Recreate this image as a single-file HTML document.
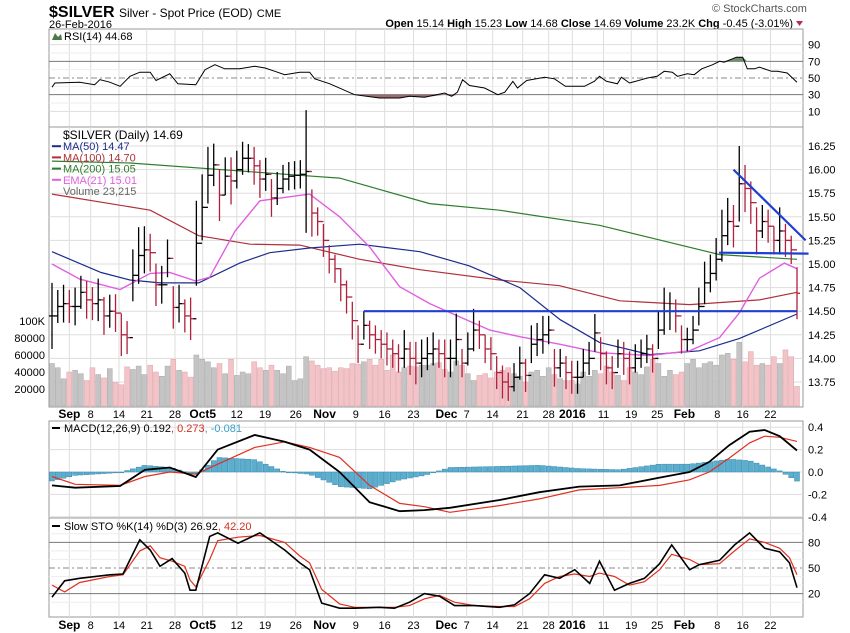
<!DOCTYPE html>
<html><head><meta charset="utf-8"><style>
body{margin:0;background:#fff}
svg{display:block;font-family:"Liberation Sans",sans-serif}
</style></head><body>
<svg id="c" width="850" height="633" viewBox="0 0 850 633">
<rect width="850" height="633" fill="#fff"/>
<text x="49" y="17" font-size="16" font-weight="bold">$SILVER <tspan font-size="12" font-weight="normal">Silver - Spot Price (EOD)</tspan> <tspan font-size="11" font-weight="normal">CME</tspan></text>
<text x="49" y="28" font-size="11">26-Feb-2016</text>
<text x="712" y="12" font-size="11" fill="#555">© StockCharts.com</text>
<text x="793" y="27" font-size="11" text-anchor="end"><tspan font-weight="bold">Open</tspan> 15.14 <tspan font-weight="bold">High</tspan> 15.23 <tspan font-weight="bold">Low</tspan> 14.68 <tspan font-weight="bold">Close</tspan> 14.69 <tspan font-weight="bold">Volume</tspan> 23.2K <tspan font-weight="bold">Chg</tspan> -0.45 (-3.01%)</text>
<path d="M796 21 L803 21 L799.5 26 Z" fill="#b03050"/>
<g id="g"></g>
</svg>
<script>
const closes=[14.45,14.55,14.58,14.55,14.55,14.70,14.62,14.58,14.62,14.45,14.50,14.48,14.25,14.22,
14.88,15.09,15.15,15.12,14.78,14.78,15.06,14.54,14.58,14.45,14.42,
15.22,15.60,15.94,16.05,15.73,15.93,15.88,16.00,16.12,16.12,16.04,15.90,15.95,15.70,15.80,15.90,15.93,15.94,15.95,15.98,
15.54,15.45,15.25,15.05,14.95,14.78,14.65,14.40,14.15,14.35,14.25,14.20,14.15,14.10,14.05,14.00,14.10,14.00,13.95,14.00,14.05,
14.10,14.05,14.00,14.00,14.20,13.95,14.10,14.30,14.25,14.10,14.05,13.85,13.75,13.70,13.80,13.95,13.82,14.15,14.20,14.25,14.30,13.90,13.95,13.85,13.80,13.80,13.95,14.00,14.27,14.05,13.90,13.85,14.05,14.00,13.90,14.00,14.05,14.10,14.00,14.30,14.50,14.50,14.45,14.20,14.20,14.30,14.55,14.80,14.90,15.05,15.30,15.45,15.40,15.85,15.80,15.65,15.35,15.45,15.40,15.25,15.35,15.25,15.15,14.69];
const spans=[0.7,0.35,0.4,0.35,0.4,0.35,0.4,0.35,0.45,0.4,0.35,0.4,0.45,0.35,
0.55,0.6,0.5,0.4,0.45,0.4,0.4,0.45,0.4,0.35,0.45,
0.9,0.7,0.6,0.45,0.55,0.4,0.5,0.4,0.35,0.3,0.4,0.4,0.35,0.4,0.35,0.3,0.3,0.3,0.3,1.3,
0.5,0.3,0.35,0.3,0.3,0.35,0.35,0.4,0.4,0.3,0.3,0.3,0.3,0.35,0.3,0.3,0.4,0.35,0.45,0.4,0.35,
0.35,0.3,0.4,0.4,0.55,0.3,0.35,0.45,0.3,0.3,0.35,0.35,0.35,0.3,0.3,0.35,0.35,0.4,0.35,0.4,0.3,0.4,0.3,0.35,0.35,0.35,0.3,0.35,0.4,0.35,0.35,0.35,0.3,0.35,0.35,0.3,0.3,0.3,0.3,0.4,0.5,0.4,0.35,0.3,0.25,0.3,0.4,0.45,0.4,0.45,0.55,0.5,0.45,0.8,0.5,0.45,0.5,0.35,0.35,0.3,0.5,0.35,0.3,0.55];
const volumes=[50,45,32,40,42,38,30,45,37,33,44,28,25,46,43,47,37,48,40,35,47,55,42,40,34,
60,55,52,45,50,38,55,36,40,38,52,45,42,48,42,38,47,30,32,58,53,48,44,45,41,
45,44,50,49,52,55,48,55,42,60,40,45,47,46,48,48,50,51,43,40,53,48,38,30,36,
38,33,40,42,45,38,35,28,40,42,35,45,37,32,30,30,26,40,35,42,38,47,40,36,30,
45,40,37,46,55,50,35,42,37,40,50,55,45,50,52,48,60,62,55,75,52,64,48,50,48,58,50,66,58,23];
const rsiIdx=[0,0.5,4.8,7.4,8.3,10,11.8,13.5,15.2,17,18,20.4,21.8,24.9,26.5,28.2,29.9,32.5,35.1,36.9,38.6,40.3,42.9,44.6,45.5,48.1,52.4,56.7,60.2,61.9,64.5,68,69.2,70.2,71.1,72.3,74.9,77.2,78.4,79.8,80.6,82.2,85.3,87,88.9,92.2,93.9,94.8,96,97.9,98.6,100,103.1,104.8,106,107.4,108.3,110,111.2,112.5,114.4,115.6,116.4,118.5,119.6,120.4,121.6,122.5,124.6,125.6,127.3,129];
const rsiVals=[39,44,45,42,48,45,40,52,57,57,47,55,43,42,60,66,61,61,64,62,58,54,57,57,49,43,30,26,26,28,27,32,28,33,48,41,38,30,33,46,38,47,51,49,40,40,46,52,46,43,51,44,50,52,58,57,52,55,54,61,66,70,69,75,75,61,61,63,58,58,56,45];
const maIdx50=[0,8.5,13.5,18.7,25.4,32.5,37.7,44.6,53.3,63.7,72.3,81,88,94.8,103.5,112.1,119,129];
const ma50=[15.13,14.91,14.83,14.80,14.80,15.01,15.12,15.17,15.21,15.13,14.98,14.75,14.41,14.17,14.04,14.08,14.21,14.47];
const maIdx100=[0,17,25.4,34.3,42.9,53.3,63.7,77.5,87.9,98.3,110.4,122.5,129];
const ma100=[15.74,15.57,15.30,15.21,15.20,15.05,14.94,14.83,14.77,14.61,14.57,14.62,14.70];
const maIdx200=[0,13.5,42.9,49.8,65.4,77.5,94.8,103.5,115.6,129];
const ma200=[16.09,16.07,15.94,15.91,15.64,15.57,15.41,15.28,15.10,15.05];
const emaIdx=[0,4.8,11.8,17,20.4,24.9,27.3,31.7,36,44.6,49.8,55,60.2,65.4,70.6,75.8,81,87.9,94.8,103.5,110.4,115.6,119,122.5,126.8,129];
const ema21=[15.00,14.84,14.73,14.90,14.91,14.82,14.86,15.35,15.67,15.74,15.50,15.18,14.76,14.58,14.44,14.30,14.23,14.15,14.06,14.03,14.08,14.22,14.48,14.85,15.01,14.95];
const macdIdx=[0,4,11.8,16.1,20.4,24.9,28.7,35.1,40.3,44.6,49.8,55,60.2,64.5,68.9,77.5,84.4,91.3,98.3,105.2,110.4,113.8,117.3,120.8,123.4,126,129];
const macdVals=[-0.12,-0.14,-0.125,0.02,0.04,-0.045,0.2,0.33,0.27,0.2,0.0,-0.27,-0.35,-0.34,-0.32,-0.25,-0.18,-0.13,-0.12,-0.05,0.0,0.09,0.24,0.36,0.375,0.32,0.192];
const signalVals=[-0.04,-0.11,-0.12,-0.04,0.0,-0.02,0.07,0.22,0.27,0.22,0.13,-0.12,-0.28,-0.31,-0.36,-0.30,-0.24,-0.16,-0.14,-0.12,-0.07,0.0,0.125,0.26,0.32,0.31,0.273];
const stoIdx=[0,2.2,4.8,10,12.3,15.2,17,18.7,20.8,23,23.9,24.9,27.3,28.7,32.2,36,40.3,42.9,44.6,46.7,49.8,52.4,56.7,59.3,61.9,64.5,67.1,69.7,73.2,77.5,80.1,82.7,85.3,87.9,90.5,93.1,94.8,97.4,100,102.6,105.2,107.3,110.4,112.1,115.6,118.2,120.8,123.4,126,127.7,129];
const stoK=[16,35,38,42,43,83,71,52,61,44,24,24,87,91,79,91,71,56,48,9,3,3,4,3,10,20,17,6,6,4,7,20,42,38,48,32,58,24,32,38,55,77,48,54,59,77,91,73,69,56,27];
const stoD=[30,22,33,40,42,70,76,62,58,52,36,28,60,82,86,88,80,64,56,25,8,4,4,4,6,14,18,10,6,5,5,14,32,40,43,40,44,40,30,34,48,66,60,54,55,70,84,80,73,62,42];
const tickIdx=[3,6.7,11.6,16.4,21.3,26.1,32,36.9,42.2,47.2,52.6,57.6,62.6,68.3,71.8,76.3,81.5,86,90.1,95.5,100.3,104.8,109.5,115.2,119.6,124.4];
const tickLabels=["Sep","8","14","21","28","Oct5","12","19","26","Nov","9","16","23","Dec","7","14","21","28","2016","11","19","25","Feb","8","16","22"];
const tickBold=["Sep","Oct5","Nov","Dec","2016","Feb"];
const priceTicks=[16.25,16.00,15.75,15.50,15.25,15.00,14.75,14.50,14.25,14.00,13.75];
const volTicks=[100000,80000,60000,40000,20000];
const volTickLabels=["100K","80000","60000","40000","20000"];

const NS="http://www.w3.org/2000/svg", G=document.getElementById('g');
const L=49,R=803;
const X=i=>52+i*(797-52)/(closes.length-1);
const PY=v=>146+(16.25-v)*94.4;
const VY=v=>406-v*17/20000;
const RY=v=>78-(v-50)*0.833;
const MY=v=>472-v*112;
const SY=v=>568-(v-50)*0.855;
function el(t,a,p){const e=document.createElementNS(NS,t);for(const k in a)e.setAttribute(k,a[k]);(p||G).appendChild(e);return e;}
function txt(x,y,s,a){const e=el('text',Object.assign({x:x,y:y,'font-size':11},a||{}));e.textContent=s;return e;}
function line(idx,vals,fy,col,w,name){let d='';idx.forEach((i,k)=>{d+=(k?'L':'M')+X(i).toFixed(1)+' '+fy(vals[k]).toFixed(1);});
 const p=el('path',{d:d,fill:'none',stroke:col,'stroke-width':w});
 
 return p;}
function interp(idx,vals,i){if(i<=idx[0])return vals[0];for(let k=1;k<idx.length;k++){if(i<=idx[k]){const t=(i-idx[k-1])/(idx[k]-idx[k-1]);return vals[k-1]+t*(vals[k]-vals[k-1]);}}return vals[vals.length-1];}
function panel(top,bot,name){
 const r=el('rect',{x:L,y:top,width:R-L,height:bot-top,fill:'none',stroke:'#999'});
 
 
 tickIdx.forEach(i=>el('line',{x1:X(i),x2:X(i),y1:top,y2:bot,stroke:'#ddd'}));}
// RSI panel
panel(29,127,'rsi-panel');
[90,70,50,30,10].forEach(v=>{el('line',{x1:L,x2:R,y1:RY(v),y2:RY(v),stroke:v==70||v==30?'#777':(v==50?'#888':'#ddd'),'stroke-dasharray':v==50?'6,3,2,3':''});txt(808,RY(v)+4,String(v));});
for(let v=20;v<=80;v+=20)el('line',{x1:L,x2:R,y1:RY(v),y2:RY(v),stroke:'#eee'});
// fills
(function(){let d='M'+X(rsiIdx[0])+' '+RY(30);rsiIdx.forEach((i,k)=>{d+='L'+X(i).toFixed(1)+' '+RY(Math.min(rsiVals[k],30)).toFixed(1);});d+='L'+X(rsiIdx[rsiIdx.length-1])+' '+RY(30)+'Z';const p=el('path',{d:d,fill:'#9c6b6b'});
 let d2='M'+X(rsiIdx[0])+' '+RY(70);rsiIdx.forEach((i,k)=>{d2+='L'+X(i).toFixed(1)+' '+RY(Math.max(rsiVals[k],70)).toFixed(1);});d2+='L'+X(rsiIdx[rsiIdx.length-1])+' '+RY(70)+'Z';const p2=el('path',{d:d2,fill:'#6e8f6e'});})();
line(rsiIdx,rsiVals,RY,'#000',1,'rsi-line');
txt(64,40,'RSI(14) 44.68',{'font-size':11});
el('path',{d:'M52 40 L55 33 L58 37 L61 34 L62 40Z',fill:'#4a7a4a'});
// Main panel
panel(127,407,'price-panel');
priceTicks.forEach(v=>{el('line',{x1:L,x2:R,y1:PY(v),y2:PY(v),stroke:'#ddd'});txt(808,PY(v)+4,v.toFixed(2));});
volTicks.forEach((v,k)=>{txt(45,VY(v)+4,volTickLabels[k],{'text-anchor':'end'});});
volumes.forEach((v,i)=>{const up=i==0||closes[i]>=closes[i-1];const r=el('rect',{x:X(i)-2.5,y:VY(v*1000),width:5,height:406-VY(v*1000),fill:up?'#c4c4c4':'#f2c3c7',stroke:up?'#aaa':'#e0a5ab','stroke-width':0.5});
 
 });
line(maIdx200,ma200,PY,'#2e7d2e',1.2,'ma200-line');
line(maIdx100,ma100,PY,'#b0303c',1.2,'ma100-line');
line(maIdx50,ma50,PY,'#1c2c8c',1.2,'ma50-line');
line(emaIdx,ema21,PY,'#e060e0',1.4,'ema21-line');
closes.forEach((c,i)=>{const up=i==0||c>=closes[i-1];const col=up?'#000':'#b0203c';const x=X(i);const hi=c+spans[i]*0.5,lo=c-spans[i]*0.5;
 const b=el('line',{x1:x,x2:x,y1:PY(hi),y2:PY(lo),stroke:col,'stroke-width':1.3});
 
 
 el('line',{x1:x,x2:x+3,y1:PY(c),y2:PY(c),stroke:col,'stroke-width':1.3});
 const o=i==0?c:closes[i-1];el('line',{x1:x-3,x2:x,y1:PY(o),y2:PY(o),stroke:col,'stroke-width':1.3});});
// trend lines
const tl=[[54,14.50,129,14.50],[115.5,15.12,131,15.11],[118,16.00,130.5,15.25]];
tl.forEach(t=>{const l=el('line',{x1:X(t[0]),y1:PY(t[1]),x2:X(t[2]),y2:PY(t[3]),stroke:'#1f3fd0','stroke-width':2.2});
 
 });
const leg=[['$SILVER (Daily) 14.69','#000'],['MA(50) 14.47','#1c2c8c'],['MA(100) 14.70','#b0303c'],['MA(200) 15.05','#2e7d2e'],['EMA(21) 15.01','#e060e0'],['Volume 23,215','#666']];
leg.forEach((l,k)=>{const y=139+k*11.2;const t=txt(63,y,l[0],{fill:l[1],'font-size':k==0?12:11});if(k>0&&k<5)el('line',{x1:52,x2:61,y1:y-4,y2:y-4,stroke:l[1],'stroke-width':2});});
// x labels
function xlabels(y){tickIdx.forEach((i,k)=>{const t=txt(X(i),y,tickLabels[k],{'text-anchor':'middle','font-weight':tickBold.includes(tickLabels[k])?'bold':'normal','font-size':tickBold.includes(tickLabels[k])?12:11});});}
xlabels(418);
// MACD
panel(421,518,'macd-panel');
[0.4,0.2,0,-0.2,-0.4].forEach(v=>{el('line',{x1:L,x2:R,y1:MY(v),y2:MY(v),stroke:'#ddd'});txt(808,MY(v)+4,v.toFixed(1));});
closes.forEach((c,i)=>{const h=interp(macdIdx,macdVals,i)-interp(macdIdx,signalVals,i);const y0=MY(0),y1=MY(h);const r=el('rect',{x:X(i)-2.5,y:Math.min(y0,y1),width:5,height:Math.max(0.8,Math.abs(y1-y0)),fill:'#5aaed0',stroke:'#3a88aa','stroke-width':0.5});
 
 });
line(macdIdx,signalVals,MY,'#e03020',1.2,'macd-signal-line');
line(macdIdx,macdVals,MY,'#000',1.8,'macd-line');
el('line',{x1:52,x2:60,y1:428,y2:428,stroke:'#000','stroke-width':2});
(function(){const t=txt(64,432,'MACD(12,26,9) 0.192',{});const a=el('tspan',{fill:'#d03020'},t);a.textContent=', 0.273';const b=el('tspan',{fill:'#3aa0c8'},t);b.textContent=', -0.081';})();
// STO
panel(518,617,'stochastic-panel');
[80,50,20].forEach(v=>{el('line',{x1:L,x2:R,y1:SY(v),y2:SY(v),stroke:v==50?'#888':'#777','stroke-dasharray':v==50?'6,3,2,3':''});txt(808,SY(v)+4,String(v));});
for(let v=10;v<=90;v+=10)if(v!=80&&v!=50&&v!=20)el('line',{x1:L,x2:R,y1:SY(v),y2:SY(v),stroke:'#eee'});
line(stoIdx,stoD,SY,'#e03020',1.2,'sto-d-line');
line(stoIdx,stoK,SY,'#000',1.6,'sto-k-line');
el('line',{x1:52,x2:60,y1:526,y2:526,stroke:'#000','stroke-width':2});
(function(){const t=txt(64,530,'Slow STO %K(14) %D(3) 26.92',{});const a=el('tspan',{fill:'#d03020'},t);a.textContent=', 42.20';})();
xlabels(629);
</script>
</body></html>
